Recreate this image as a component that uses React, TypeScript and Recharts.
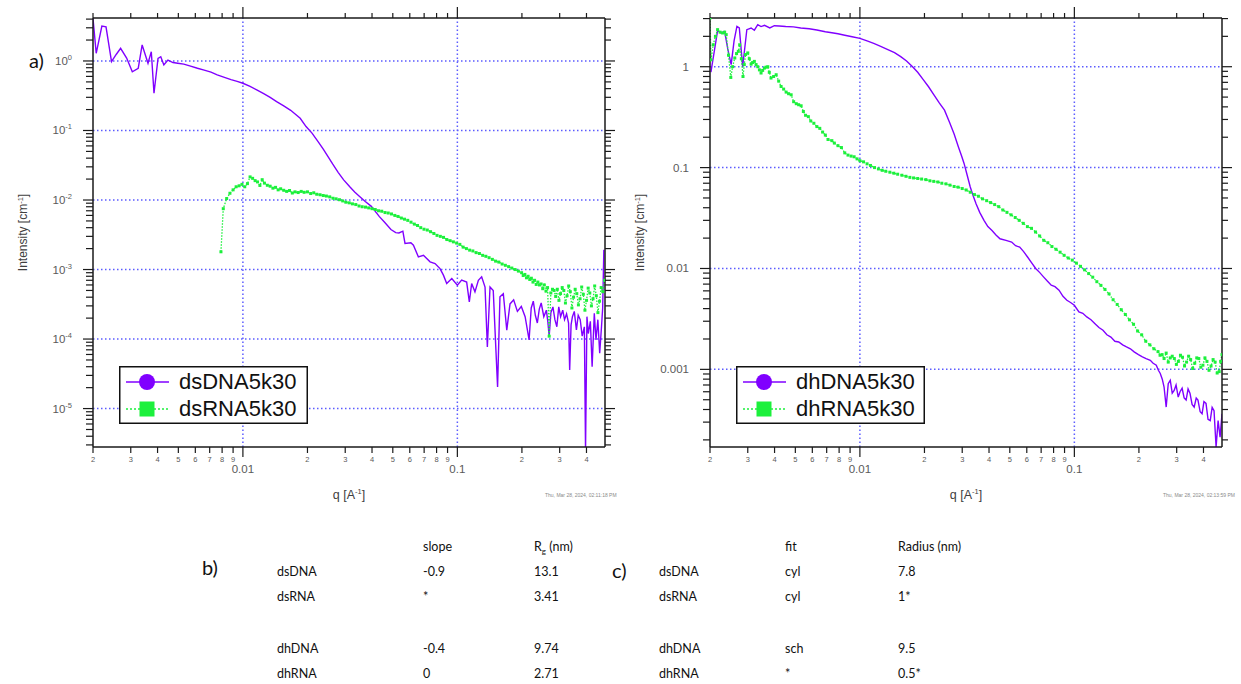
import React from "react";
import { LineChart, Line, XAxis, YAxis, ReferenceLine, Legend, Label } from "recharts";

// values: q [1/A], intensity [1/cm]
const dsDnaQ = [0.002, 0.00207, 0.0022, 0.0023, 0.00244, 0.00257, 0.00269, 0.00287, 0.00305, 0.00325, 0.00339, 0.00361, 0.00374, 0.00385, 0.00402, 0.00414, 0.00428, 0.00447, 0.00472, 0.00497, 0.0053, 0.00565, 0.00614, 0.0066, 0.0071, 0.00759, 0.0082, 0.0088, 0.0094, 0.01, 0.0108, 0.0116, 0.0125, 0.0134, 0.01436, 0.0155, 0.0167, 0.0185, 0.0197, 0.021, 0.0225, 0.0237, 0.0249, 0.0262, 0.0278, 0.0295, 0.0315, 0.0332, 0.0349, 0.0372, 0.0397, 0.0432, 0.046, 0.049, 0.0516, 0.0534, 0.0557, 0.057, 0.0607, 0.0624, 0.0658, 0.0695, 0.0746, 0.0787, 0.083, 0.0861, 0.0892, 0.0942, 0.1, 0.1047, 0.1105, 0.1137, 0.1166, 0.1208, 0.1253, 0.1298, 0.1346, 0.138, 0.142, 0.147, 0.154, 0.158, 0.1638, 0.17, 0.176, 0.183, 0.1905, 0.1987, 0.207, 0.216, 0.221, 0.226, 0.231, 0.236, 0.241, 0.246, 0.253, 0.26, 0.264, 0.268, 0.273, 0.279, 0.285, 0.291, 0.297, 0.303, 0.31, 0.316, 0.323, 0.33, 0.334, 0.339, 0.344, 0.351, 0.359, 0.366, 0.374, 0.382, 0.391, 0.396, 0.402, 0.408, 0.417, 0.425, 0.435, 0.443, 0.452, 0.461, 0.47, 0.476, 0.482];
const dsDnaI = [4.1, 1.29, 3.18, 3.1, 0.98, 1.25, 1.52, 1.1, 0.7, 0.785, 1.7, 0.926, 1.36, 0.343, 1.09, 1.15, 0.876, 1.03, 0.95, 0.926, 0.9, 0.85, 0.785, 0.74, 0.69, 0.63, 0.58, 0.54, 0.51, 0.478, 0.43, 0.383, 0.34, 0.3, 0.26, 0.226, 0.195, 0.15, 0.114, 0.0916, 0.068, 0.054, 0.0424, 0.033, 0.025, 0.0195, 0.0155, 0.013, 0.0113, 0.0095, 0.00811, 0.00581, 0.0047, 0.00376, 0.0034, 0.00336, 0.00356, 0.00237, 0.00242, 0.00224, 0.00152, 0.0016, 0.00129, 0.00122, 0.00103, 0.00083, 0.00063, 0.000742, 0.000596, 0.000703, 0.00066, 0.000343, 0.00063, 0.000477, 0.0007, 0.000784, 0.00056, 0.000077, 0.00056, 0.0005, 0.0000205, 0.000405, 0.00045, 0.000134, 0.00032, 0.000366, 0.00025, 0.000294, 0.00021, 0.000097, 0.00028, 0.00035, 0.00022, 0.00017, 0.00027, 0.00033, 0.00021, 0.00026, 0.00018, 0.00011, 0.00024, 0.00029, 0.00019, 0.00015, 0.00029, 0.00021, 0.00026, 0.00019, 0.00023, 0.00017, 0.000036, 0.00016, 0.00021, 0.00025, 0.000135, 0.00022, 0.00019, 0.00011, 0.00015, 0.0000025, 0.00021, 0.00012, 0.00018, 0.00004, 0.000235, 0.000097, 0.00019, 0.0000625, 0.00015, 0.00028, 0.00192];

const dsRnaQ = [0.0079, 0.0081, 0.0084, 0.0087, 0.009, 0.0093, 0.0096, 0.0099, 0.0102, 0.0105, 0.0108, 0.0111, 0.0114, 0.0117, 0.012, 0.0123, 0.0126, 0.013, 0.0134, 0.0138, 0.0142, 0.0146, 0.015, 0.0155, 0.016, 0.0165, 0.017, 0.0175, 0.0181, 0.0187, 0.0193, 0.02, 0.0207, 0.0214, 0.0221, 0.0229, 0.0237, 0.0245, 0.0254, 0.0263, 0.0272, 0.0282, 0.0292, 0.0302, 0.0313, 0.0324, 0.0336, 0.0348, 0.036, 0.0373, 0.0386, 0.04, 0.0414, 0.0429, 0.0444, 0.046, 0.0476, 0.0493, 0.0511, 0.0529, 0.0548, 0.0567, 0.0587, 0.0608, 0.063, 0.0652, 0.0675, 0.0699, 0.0724, 0.075, 0.0777, 0.0804, 0.0833, 0.0862, 0.0893, 0.0925, 0.0958, 0.0992, 0.1027, 0.1064, 0.1102, 0.1141, 0.1181, 0.1223, 0.1267, 0.1312, 0.1358, 0.1406, 0.1456, 0.1508, 0.1561, 0.1617, 0.1674, 0.1734, 0.1795, 0.1859, 0.1925, 0.1993, 0.2028, 0.2064, 0.21, 0.2137, 0.2175, 0.2213, 0.2252, 0.2291, 0.2332, 0.2373, 0.2415, 0.2457, 0.25, 0.2544, 0.2589, 0.2634, 0.268, 0.2728, 0.2776, 0.2824, 0.2874, 0.2925, 0.2976, 0.3028, 0.3082, 0.3136, 0.3191, 0.3247, 0.3304, 0.3362, 0.3421, 0.3482, 0.3543, 0.3605, 0.3668, 0.3733, 0.3799, 0.3866, 0.3934, 0.4003, 0.4073, 0.4145, 0.4218, 0.4292, 0.4368, 0.4445, 0.4523, 0.4602, 0.4683, 0.4766, 0.486];
const dsRnaI = [0.0018, 0.0075, 0.0105, 0.0125, 0.014, 0.0155, 0.016, 0.0168, 0.0155, 0.0172, 0.0215, 0.0205, 0.019, 0.0182, 0.0162, 0.0196, 0.0175, 0.0163, 0.0158, 0.0148, 0.0152, 0.014, 0.0145, 0.0138, 0.0133, 0.0137, 0.0126, 0.0131, 0.0128, 0.0133, 0.0129, 0.0131, 0.0124, 0.0127, 0.0121, 0.0119, 0.0116, 0.0114, 0.0111, 0.0106, 0.0104, 0.0101, 0.0097, 0.0093, 0.0091, 0.0088, 0.0086, 0.0082, 0.008, 0.0079, 0.0077, 0.0075, 0.0073, 0.007, 0.0069, 0.0066, 0.0065, 0.0063, 0.006, 0.0058, 0.0055, 0.0053, 0.0051, 0.0048, 0.0045, 0.0043, 0.004, 0.0038, 0.0037, 0.0035, 0.0033, 0.0031, 0.003, 0.0029, 0.0027, 0.0026, 0.0025, 0.0024, 0.0023, 0.0021, 0.002, 0.0019, 0.00185, 0.00175, 0.0017, 0.0016, 0.00155, 0.00148, 0.0014, 0.00132, 0.00128, 0.0012, 0.00115, 0.0011, 0.00105, 0.001, 0.00095, 0.0009, 0.00082, 0.00085, 0.00076, 0.0008, 0.00072, 0.00075, 0.00066, 0.0007, 0.00061, 0.00066, 0.0006, 0.00062, 0.00053, 0.0006, 0.00049, 0.00055, 0.00011, 0.00046, 0.00052, 0.0005, 0.00041, 0.00052, 0.00036, 0.00045, 0.00055, 0.0005, 0.00033, 0.00042, 0.00058, 0.00048, 0.00028, 0.0004, 0.00052, 0.00045, 0.00031, 0.00038, 0.00056, 0.00044, 0.00026, 0.00036, 0.00054, 0.00046, 0.0003, 0.00038, 0.00058, 0.00042, 0.00024, 0.00035, 0.00055, 0.00048, 0.0007];

const dhDnaQ = [0.00202, 0.00217, 0.00225, 0.00234, 0.00242, 0.00251, 0.00259, 0.00267, 0.00274, 0.00284, 0.00297, 0.00311, 0.00322, 0.00334, 0.00346, 0.00359, 0.0038, 0.00399, 0.0042, 0.00451, 0.0049, 0.0053, 0.0058, 0.0063, 0.0069, 0.0074, 0.0079, 0.0085, 0.0092, 0.01, 0.0108, 0.0116, 0.0125, 0.0135, 0.0145, 0.0155, 0.0165, 0.0176, 0.0186, 0.0197, 0.0209, 0.0221, 0.0234, 0.0248, 0.0262, 0.0275, 0.0288, 0.0298, 0.0306, 0.0316, 0.0327, 0.0337, 0.0348, 0.0362, 0.0379, 0.0395, 0.0413, 0.0431, 0.045, 0.048, 0.051, 0.0532, 0.0556, 0.058, 0.0605, 0.063, 0.066, 0.069, 0.0718, 0.0748, 0.078, 0.0812, 0.0848, 0.0885, 0.0923, 0.096, 0.1, 0.105, 0.1095, 0.1143, 0.1195, 0.1248, 0.1302, 0.136, 0.1418, 0.148, 0.1545, 0.161, 0.168, 0.175, 0.1825, 0.19, 0.199, 0.2076, 0.216, 0.226, 0.233, 0.241, 0.2465, 0.2515, 0.257, 0.262, 0.268, 0.274, 0.28, 0.286, 0.292, 0.298, 0.305, 0.311, 0.318, 0.325, 0.332, 0.339, 0.346, 0.354, 0.362, 0.37, 0.377, 0.386, 0.394, 0.402, 0.411, 0.42, 0.43, 0.439, 0.448, 0.458, 0.468, 0.478, 0.488];
const dhDnaI = [0.886, 2.28, 2.16, 2.24, 1.5, 1.05, 1.8, 2.51, 2.42, 1.0, 2.33, 2.42, 2.3, 2.61, 2.5, 2.57, 2.42, 2.55, 2.53, 2.5, 2.48, 2.42, 2.38, 2.31, 2.22, 2.17, 2.12, 2.05, 1.98, 1.91, 1.8, 1.7, 1.59, 1.48, 1.38, 1.26, 1.14, 1.0, 0.88, 0.75, 0.633, 0.53, 0.44, 0.371, 0.28, 0.215, 0.16, 0.13, 0.11, 0.085, 0.0643, 0.053, 0.0439, 0.036, 0.03, 0.026, 0.0238, 0.0215, 0.0197, 0.019, 0.0183, 0.0168, 0.0163, 0.0147, 0.013, 0.0115, 0.01, 0.0091, 0.00826, 0.0075, 0.00683, 0.0066, 0.0061, 0.0053, 0.00484, 0.0046, 0.00432, 0.00371, 0.0036, 0.00331, 0.0031, 0.00284, 0.0026, 0.00244, 0.0022, 0.00209, 0.0019, 0.00187, 0.00175, 0.00167, 0.0016, 0.00149, 0.0014, 0.00133, 0.00128, 0.00123, 0.00115, 0.0011, 0.00098, 0.00091, 0.0008, 0.000668, 0.000423, 0.00072, 0.000778, 0.00058, 0.000618, 0.0007, 0.000531, 0.0006, 0.00065, 0.00052, 0.000496, 0.00064, 0.00058, 0.00045, 0.000423, 0.00052, 0.000496, 0.00038, 0.000363, 0.00048, 0.00046, 0.00032, 0.000311, 0.00042, 0.00039, 0.00017, 0.00031, 0.000213, 0.000363];

const dhRnaQ = [0.002, 0.00202, 0.00207, 0.00212, 0.00217, 0.00223, 0.00229, 0.00234, 0.00238, 0.00244, 0.0025, 0.00255, 0.00261, 0.00266, 0.00271, 0.00275, 0.0028, 0.00285, 0.00289, 0.00293, 0.003, 0.00305, 0.00311, 0.00316, 0.00322, 0.00328, 0.00334, 0.0034, 0.00346, 0.00352, 0.00359, 0.00365, 0.00372, 0.00378, 0.00385, 0.00396, 0.00407, 0.00418, 0.00429, 0.00441, 0.00453, 0.00465, 0.00478, 0.00491, 0.00505, 0.00518, 0.00532, 0.00545, 0.00558, 0.00575, 0.0059, 0.0061, 0.0063, 0.0065, 0.0067, 0.0069, 0.0071, 0.0074, 0.0076, 0.0079, 0.0082, 0.0085, 0.0088, 0.0091, 0.0094, 0.0097, 0.01, 0.0104, 0.0108, 0.0112, 0.0117, 0.0122, 0.0127, 0.0132, 0.0138, 0.0144, 0.015, 0.0157, 0.0164, 0.0171, 0.0178, 0.0186, 0.0194, 0.0203, 0.0212, 0.0221, 0.0231, 0.0241, 0.0252, 0.0263, 0.0275, 0.0287, 0.03, 0.0313, 0.0327, 0.0342, 0.0357, 0.0373, 0.039, 0.0407, 0.0425, 0.0444, 0.0464, 0.0485, 0.0507, 0.053, 0.0553, 0.0578, 0.0604, 0.0631, 0.0659, 0.0689, 0.072, 0.0752, 0.0786, 0.0821, 0.0858, 0.0896, 0.0936, 0.0978, 0.1022, 0.1068, 0.1116, 0.1166, 0.1218, 0.1273, 0.133, 0.1389, 0.1451, 0.1516, 0.1584, 0.1655, 0.1729, 0.1807, 0.1888, 0.1972, 0.206, 0.2152, 0.2249, 0.2349, 0.2455, 0.251, 0.2565, 0.262, 0.268, 0.274, 0.28, 0.286, 0.2925, 0.299, 0.3056, 0.3124, 0.3193, 0.3264, 0.3336, 0.341, 0.3485, 0.3562, 0.3641, 0.3722, 0.3804, 0.3888, 0.3975, 0.4063, 0.4153, 0.4245, 0.4339, 0.4435, 0.4533, 0.4633, 0.4736, 0.481, 0.488];
const dhRnaI = [3.05, 1.17, 1.65, 2.0, 2.33, 2.2, 2.16, 2.2, 2.08, 1.3, 0.783, 1.0, 1.22, 1.35, 1.42, 1.65, 1.2, 0.8, 1.05, 1.32, 1.37, 1.2, 1.06, 1.1, 1.13, 1.05, 1.0, 0.93, 0.866, 0.92, 0.97, 0.99, 1.0, 0.88, 0.772, 0.8, 0.833, 0.72, 0.637, 0.6, 0.56, 0.54, 0.527, 0.45, 0.43, 0.42, 0.41, 0.36, 0.33, 0.32, 0.29, 0.275, 0.255, 0.245, 0.225, 0.21, 0.19, 0.185, 0.175, 0.165, 0.158, 0.14, 0.133, 0.13, 0.128, 0.122, 0.117, 0.114, 0.109, 0.105, 0.1, 0.097, 0.094, 0.092, 0.09, 0.088, 0.086, 0.084, 0.082, 0.08, 0.079, 0.078, 0.077, 0.076, 0.074, 0.073, 0.072, 0.07, 0.069, 0.067, 0.065, 0.064, 0.062, 0.06, 0.057, 0.054, 0.052, 0.049, 0.047, 0.045, 0.043, 0.041, 0.038, 0.036, 0.034, 0.032, 0.03, 0.028, 0.026, 0.025, 0.023, 0.021, 0.019, 0.018, 0.0165, 0.0155, 0.0145, 0.0135, 0.0127, 0.0121, 0.0113, 0.0105, 0.0097, 0.0089, 0.0082, 0.0074, 0.0068, 0.0062, 0.0056, 0.0049, 0.0044, 0.0039, 0.0035, 0.0031, 0.0028, 0.0024, 0.0022, 0.0019, 0.00175, 0.0016, 0.0015, 0.00138, 0.0014, 0.00128, 0.00145, 0.00118, 0.0013, 0.00135, 0.00128, 0.00112, 0.0012, 0.00138, 0.00132, 0.00108, 0.00118, 0.00135, 0.00125, 0.00102, 0.00115, 0.0013, 0.00128, 0.00105, 0.0011, 0.0013, 0.0012, 0.00098, 0.00108, 0.00125, 0.00118, 0.00092, 0.00095, 0.0012, 0.0014];

// axis ticks and labels
const qTicks = [0.002, 0.003, 0.004, 0.005, 0.006, 0.007, 0.008, 0.009, 0.01, 0.02, 0.03, 0.04, 0.05, 0.06, 0.07, 0.08, 0.09, 0.1, 0.2, 0.3, 0.4];
const qGrid = [0.01, 0.1];
const leftGrid = [1, 0.1, 0.01, 0.001, 0.0001, 0.00001];
const rightGrid = [1, 0.1, 0.01, 0.001];
const leftNames = ["dsDNA5k30", "dsRNA5k30"];
const rightNames = ["dhDNA5k30", "dhRNA5k30"];

// tables b) and c)
const tableRows = ["dsDNA", "dsRNA", "dhDNA", "dhRNA"];
const slopeValues = ["-0.9", "*", "-0.4", "0"];
const rgValues = ["13.1", "3.41", "9.74", "2.71"];
const fitValues = ["cyl", "cyl", "sch", "*"];
const radiusValues = ["7.8", "1*", "9.5", "0.5*"];

const PURPLE = "#8000ff";
const GREEN = "#1cf03c";
const AXIS = "#1a1a1a";
const TICK_TXT = "#5a5a5a";
const GRID = "#5c5cff";
const SANS = "'Liberation Sans', Arial, sans-serif";
const TABLE_FONT = "Lato, 'Open Sans', sans-serif";
const Q_DOMAIN: [number, number] = [0.002, 0.488];

const zip = (q: number[], I: number[]) => q.map((v, i) => ({ q: v, I: I[i] }));

const logTicks = (lo: number, hi: number) => {
  const out: number[] = [];
  for (let e = Math.floor(Math.log10(lo)); e <= Math.ceil(Math.log10(hi)); e++) {
    for (let m = 1; m <= 9; m++) {
      const v = +(m * Math.pow(10, e)).toPrecision(6);
      if (v >= lo && v <= hi) out.push(v);
    }
  }
  return out;
};

const isDecade = (v: number) => Math.abs(Math.log10(v) - Math.round(Math.log10(v))) < 1e-6;
const mantissa = (v: number) => Math.round(v / Math.pow(10, Math.floor(Math.log10(v) + 1e-9)));

function BottomTick(props: any) {
  const { x, y, payload } = props;
  const v = payload.value;
  const major = isDecade(v);
  return (
    <g>
      <line x1={x} x2={x} y1={y} y2={y + (major ? 10 : 6)} stroke={AXIS} strokeWidth={1.2} />
      {major ? (
        <text x={x} y={y + 26} textAnchor="middle" fontSize={11.5} fontFamily={SANS} fill={TICK_TXT}>
          {String(v)}
        </text>
      ) : (
        <text x={x} y={y + 15} textAnchor="middle" fontSize={7.5} fontFamily={SANS} fill={TICK_TXT}>
          {mantissa(v)}
        </text>
      )}
    </g>
  );
}

function TopTick(props: any) {
  const { x, y, payload } = props;
  const major = isDecade(payload.value);
  return <line x1={x} x2={x} y1={y} y2={y - (major ? 11 : 5)} stroke={AXIS} strokeWidth={1.2} />;
}

function LeftTick(props: any) {
  const { x, y, payload, pow } = props;
  const v = payload.value;
  const major = isDecade(v);
  return (
    <g>
      <line x1={x - (major ? 10 : 7)} x2={x} y1={y} y2={y} stroke={AXIS} strokeWidth={1.2} />
      {major &&
        (pow ? (
          <text x={x - 21} y={y + 4} textAnchor="end" fontSize={11.5} fontFamily={SANS} fill={TICK_TXT}>
            10
            <tspan dy={-5} fontSize={7.5}>
              {Math.round(Math.log10(v))}
            </tspan>
          </text>
        ) : (
          <text x={x - 21} y={y + 4} textAnchor="end" fontSize={11.5} fontFamily={SANS} fill={TICK_TXT}>
            {String(v)}
          </text>
        ))}
    </g>
  );
}

function RightTick(props: any) {
  const { x, y, payload } = props;
  const major = isDecade(payload.value);
  return <line x1={x} x2={x + (major ? 10 : 6)} y1={y} y2={y} stroke={AXIS} strokeWidth={1.2} />;
}

const yTitle = (p: any) => {
  const vb = p.viewBox;
  const cx = vb.x + 27;
  const cy = vb.y + vb.height / 2;
  return (
    <text transform={`rotate(-90 ${cx} ${cy})`} x={cx} y={cy} textAnchor="middle" fontSize={12} fontFamily={SANS} fill="#404040">
      Intensity [cm
      <tspan dy={-4} fontSize={7.5}>
        -1
      </tspan>
      <tspan dy={4}>]</tspan>
    </text>
  );
};

const xTitle = (p: any) => {
  const vb = p.viewBox;
  const cx = vb.x + vb.width / 2;
  return (
    <text x={cx} y={vb.y + 52} textAnchor="middle" fontSize={12.5} fontFamily={SANS} fill="#404040">
      q [A
      <tspan dy={-5} fontSize={7.5}>
        -1
      </tspan>
      <tspan dy={5}>]</tspan>
    </text>
  );
};

const greenDot = (p: any) => (
  <rect key={`g${p.index}`} x={p.cx - 1.5} y={p.cy - 1.5} width={3} height={3} fill={GREEN} />
);

function LegendBox({ names }: { names: string[] }) {
  return (
    <svg width={189} height={58} style={{ display: "block" }}>
      <rect x={0.75} y={0.75} width={187.5} height={56.5} fill="#fff" stroke="#111" strokeWidth={1.5} />
      <line x1={7} x2={50} y1={16} y2={16} stroke={PURPLE} strokeWidth={1.5} />
      <circle cx={28} cy={16} r={8} fill={PURPLE} />
      <text x={60} y={23} fontSize={22} fontFamily={SANS} fill="#111">
        {names[0]}
      </text>
      <line x1={7} x2={50} y1={43} y2={43} stroke={GREEN} strokeWidth={1.5} strokeDasharray="2 2" />
      <rect x={20.5} y={35.5} width={15} height={15} fill={GREEN} />
      <text x={60} y={50} fontSize={22} fontFamily={SANS} fill="#111">
        {names[1]}
      </text>
    </svg>
  );
}

interface PanelProps {
  a: { q: number; I: number }[];
  b: { q: number; I: number }[];
  names: string[];
  yDomain: [number, number];
  grid: number[];
  pow: boolean;
}

function Panel({ a, b, names, yDomain, grid, pow }: PanelProps) {
  const yTicks = logTicks(yDomain[0], yDomain[1]);
  const axisLine = { stroke: AXIS, strokeWidth: 1.5 };
  return (
    <LineChart width={620} height={520} margin={{ top: 0, right: 0, bottom: 0, left: 0 }}>
      <XAxis
        xAxisId="b"
        dataKey="q"
        type="number"
        scale="log"
        domain={Q_DOMAIN}
        allowDataOverflow
        ticks={qTicks}
        interval={0}
        tickSize={0}
        tickMargin={0}
        tickLine={false}
        tick={<BottomTick />}
        axisLine={axisLine}
        height={73}
      >
        <Label content={xTitle} />
      </XAxis>
      <XAxis
        xAxisId="t"
        orientation="top"
        dataKey="q"
        type="number"
        scale="log"
        domain={Q_DOMAIN}
        allowDataOverflow
        ticks={qTicks}
        interval={0}
        tickSize={0}
        tickMargin={0}
        tickLine={false}
        tick={<TopTick />}
        axisLine={axisLine}
        height={18}
      />
      <YAxis
        yAxisId="l"
        type="number"
        scale="log"
        domain={yDomain}
        allowDataOverflow
        ticks={yTicks}
        interval={0}
        tickSize={0}
        tickMargin={0}
        tickLine={false}
        tick={<LeftTick pow={pow} />}
        axisLine={axisLine}
        width={93}
      >
        <Label content={yTitle} />
      </YAxis>
      <YAxis
        yAxisId="r"
        orientation="right"
        type="number"
        scale="log"
        domain={yDomain}
        allowDataOverflow
        ticks={yTicks}
        interval={0}
        tickSize={0}
        tickMargin={0}
        tickLine={false}
        tick={<RightTick />}
        axisLine={axisLine}
        width={15}
      />
      {qGrid.map((v) => (
        <ReferenceLine key={`x${v}`} xAxisId="b" yAxisId="l" x={v} stroke={GRID} strokeWidth={1.5} strokeDasharray="1.5 2.5" />
      ))}
      {grid.map((v) => (
        <ReferenceLine key={`y${v}`} xAxisId="b" yAxisId="l" y={v} stroke={GRID} strokeWidth={1.5} strokeDasharray="1.5 2.5" />
      ))}
      <Line
        xAxisId="b"
        yAxisId="l"
        data={a}
        dataKey="I"
        name={names[0]}
        type="linear"
        stroke={PURPLE}
        strokeWidth={1.4}
        dot={false}
        isAnimationActive={false}
      />
      <Line
        xAxisId="b"
        yAxisId="l"
        data={b}
        dataKey="I"
        name={names[1]}
        type="linear"
        stroke={GREEN}
        strokeWidth={1.3}
        strokeDasharray="1.5 1.5"
        dot={greenDot}
        isAnimationActive={false}
      />
      <Legend
        layout="horizontal"
        verticalAlign="middle"
        align="center"
        wrapperStyle={{ left: 119, top: 366, width: 189, height: 58 }}
        content={() => <LegendBox names={names} />}
      />
    </LineChart>
  );
}

const rowY = [576, 601, 653, 678];

export default function App() {
  return (
    <div style={{ position: "absolute", left: 0, top: 0, width: 1241, height: 684, background: "#fff" }}>
      <div style={{ position: "absolute", left: 0, top: 0 }}>
        <Panel a={zip(dsDnaQ, dsDnaI)} b={zip(dsRnaQ, dsRnaI)} names={leftNames} yDomain={[2.8e-6, 4.15]} grid={leftGrid} pow />
      </div>
      <div style={{ position: "absolute", left: 617, top: 0 }}>
        <Panel a={zip(dhDnaQ, dhDnaI)} b={zip(dhRnaQ, dhRnaI)} names={rightNames} yDomain={[1.7e-4, 3.04]} grid={rightGrid} pow={false} />
      </div>
      <svg width={1241} height={684} style={{ position: "absolute", left: 0, top: 0, pointerEvents: "none" }}>
        <g fontFamily={TABLE_FONT} fill="#111">
          <text x={29} y={68} fontSize={20}>a)</text>
          <text x={202} y={575} fontSize={20}>b)</text>
          <text x={612} y={578} fontSize={20}>c)</text>
          <text x={423} y={551} fontSize={12.5}>slope</text>
          <text x={534} y={551} fontSize={12.5}>
            R<tspan dy={3} fontSize={8}>g</tspan>
            <tspan dy={-3}> (nm)</tspan>
          </text>
          <text x={785} y={551} fontSize={12.5}>fit</text>
          <text x={898} y={551} fontSize={12.5}>Radius (nm)</text>
          {tableRows.map((r, i) => (
            <g key={r} fontSize={12.5}>
              <text x={277} y={rowY[i]}>{r}</text>
              <text x={423} y={rowY[i]}>{slopeValues[i]}</text>
              <text x={534} y={rowY[i]}>{rgValues[i]}</text>
              <text x={659} y={rowY[i]}>{r}</text>
              <text x={785} y={rowY[i]}>{fitValues[i]}</text>
              <text x={898} y={rowY[i]}>{radiusValues[i]}</text>
            </g>
          ))}
        </g>
        <g fontFamily={SANS} fontSize={5} fill="#8a8a8a">
          <text x={545} y={497}>Thu, Mar 28, 2024, 02:11:18 PM</text>
          <text x={1163} y={497}>Thu, Mar 28, 2024, 02:13:59 PM</text>
        </g>
      </svg>
    </div>
  );
}
